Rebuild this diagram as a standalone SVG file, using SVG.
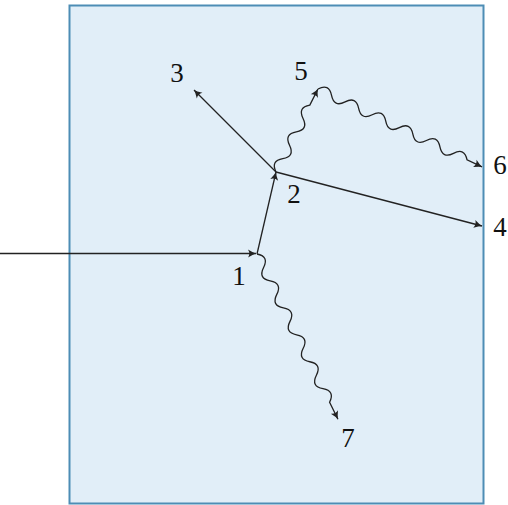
<svg xmlns="http://www.w3.org/2000/svg" width="508" height="505" viewBox="0 0 508 505">
<style>
.box{fill:#e1eef8;stroke:#4d8db5;stroke-width:2}
.ln{fill:none;stroke:#222;stroke-width:1.3}
.lb{font-family:'Liberation Serif','Times New Roman',serif;font-size:27px;fill:#111;text-anchor:middle}
</style>
<defs>
<marker id="ah" viewBox="-9 -5 10 10" refX="0" refY="0" markerWidth="10" markerHeight="10" orient="auto" markerUnits="userSpaceOnUse">
<path d="M-8,-4 Q-3,-0.8 0,0 Q-3,0.8 -8,4 Q-5.5,0 -8,-4Z" fill="#222"/>
</marker>
</defs>
<rect class="box" x="69.5" y="5.5" width="414" height="498"/>
<g id="connectors">
<line class="ln" x1="0" y1="253.5" x2="256" y2="253.5" marker-end="url(#ah)"/>
<line class="ln" x1="257" y1="254" x2="276" y2="172" marker-end="url(#ah)"/>
<line class="ln" x1="276" y1="172" x2="194" y2="90" marker-end="url(#ah)"/>
<line class="ln" x1="276" y1="172" x2="482" y2="226" marker-end="url(#ah)"/>
<path class="ln" transform="translate(276,172) rotate(-63.2)" d="M0,0 q7.5,-10 15,0 t15,0 t15,0 t15,0 t15,0 l18,0" marker-end="url(#ah)"/>
<path class="ln" transform="translate(318,89) rotate(25.4)" d="M0,0 q7.5,-10 15,0 t15,0 t15,0 t15,0 t15,0 t15,0 t15,0 t15,0 t15,0 t15,0 t15,0 l16.6,0" marker-end="url(#ah)"/>
<path class="ln" transform="translate(257,254) rotate(63.9)" d="M0,0 q7.5,-10 15,0 t15,0 t15,0 t15,0 t15,0 t15,0 t15,0 t15,0 t15,0 t15,0 t15,0 l19,0" marker-end="url(#ah)"/>
</g>
<g id="n1"><text class="lb" x="239" y="285">1</text></g>
<g id="n2"><text class="lb" x="294" y="203">2</text></g>
<g id="n3"><text class="lb" x="177" y="82">3</text></g>
<g id="n4"><text class="lb" x="500" y="236">4</text></g>
<g id="n5"><text class="lb" x="301" y="80">5</text></g>
<g id="n6"><text class="lb" x="500" y="174">6</text></g>
<g id="n7"><text class="lb" x="348" y="447">7</text></g>
</svg>
